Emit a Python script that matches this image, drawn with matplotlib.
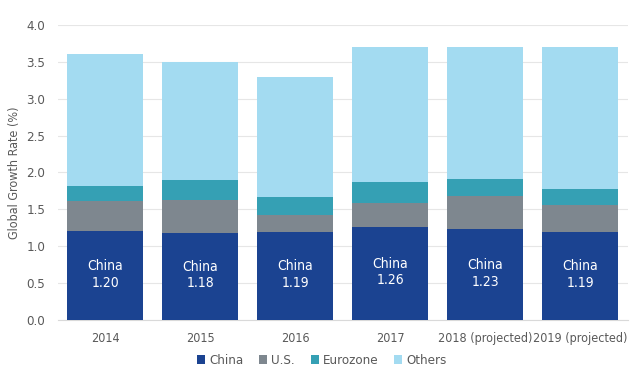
import numpy as np
import matplotlib.pyplot as plt

years = ["2014", "2015", "2016", "2017", "2018 (projected)", "2019 (projected)"]
china = [1.20, 1.18, 1.19, 1.26, 1.23, 1.19]
us = [0.42, 0.45, 0.24, 0.33, 0.45, 0.37]
eurozone = [0.20, 0.27, 0.24, 0.28, 0.23, 0.22]
others = [1.78, 1.60, 1.63, 1.83, 1.79, 1.92]

colors = ["#1b4391", "#7e878f", "#35a0b4", "#a3dbf1"]
txt = "#595959"

plt.rcParams['font.family'] = ['DejaVu Sans']
plt.rcParams['font.stretch'] = 'condensed'

fig = plt.figure(figsize=(6.4, 3.88), dpi=100)
ax = fig.add_axes([0.0906, 0.1753, 0.8904, 0.7603])

x = np.arange(len(years))
bottom = np.zeros(len(years))
for vals, c, name in zip([china, us, eurozone, others], colors, ["China", "U.S.", "Eurozone", "Others"]):
    ax.bar(x, vals, 0.8, bottom=bottom, color=c, label=name, zorder=3)
    bottom += np.array(vals)

for i, v in enumerate(china):
    ax.text(x[i], v / 2 + 0.02, "China\n{:.2f}".format(v), ha="center", va="center",
            color="white", fontsize=10, linespacing=1.25, zorder=4)

ax.set_xlim(-0.5, 5.5)
ax.set_ylim(0, 4.0)
ax.set_yticks(np.arange(0, 4.01, 0.5))
ax.set_yticklabels(["{:.1f}".format(t) for t in np.arange(0, 4.01, 0.5)])
ax.set_xticks(x)
ax.set_xticklabels(years)
ax.grid(axis="y", color="#e6e6e6", linewidth=0.8, zorder=0)
for s in ["top", "right", "left"]:
    ax.spines[s].set_visible(False)
ax.spines["bottom"].set_color("#d9d9d9")
ax.tick_params(axis="both", length=0, colors=txt, labelsize=9.5)
ax.tick_params(axis="x", pad=9, labelsize=9)
ax.tick_params(axis="y", pad=9)
ax.set_ylabel("Global Growth Rate (%)", color=txt, fontsize=9)

ax.legend(loc="upper center", bbox_to_anchor=(0.463, -0.075), ncol=4, frameon=False,
          fontsize=9.5, handlelength=0.6, handleheight=0.6, handletextpad=0.3,
          columnspacing=1.2, labelcolor=txt)

fig.savefig("out.png", dpi=100)
